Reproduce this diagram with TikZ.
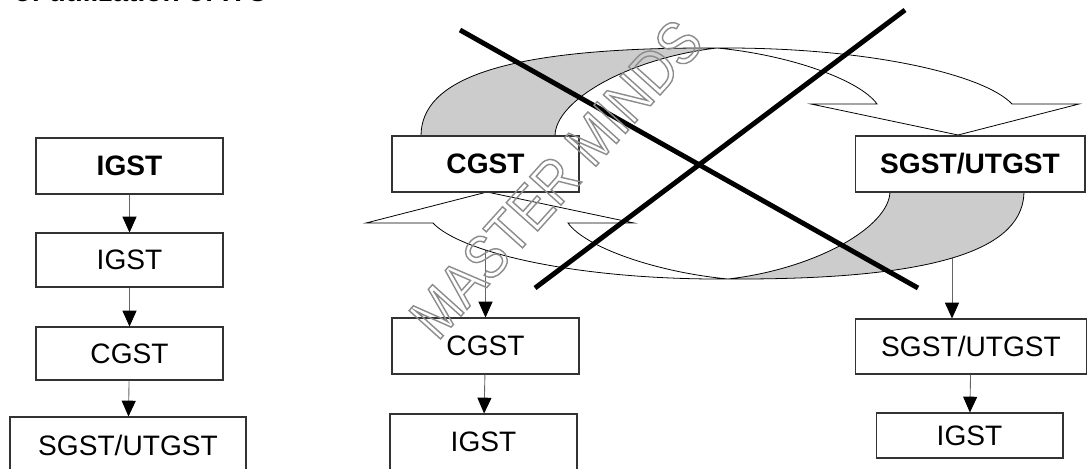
\documentclass[tikz,border=0pt]{standalone}
\usepackage{fontspec}
\setmainfont{Liberation Sans}
\newfontfamily\markfont[FakeStretch=0.85]{Liberation Sans}
\usetikzlibrary{arrows.meta,calc}

\begin{document}
\begin{tikzpicture}[x=0.02cm,y=-0.02cm,
 box/.style={draw=black!80,line width=0.6pt,fill=white,inner sep=0pt,
  minimum width=3.74cm,minimum height=1.12cm,font=\fontsize{16}{19}\selectfont},
 boldbox/.style={box,font=\bfseries\fontsize{16}{19}\selectfont},
 link/.style={draw=black!60,line width=0.5pt,-{Triangle[length=9pt,width=8pt,color=black]}},
 cross/.style={line width=2.8pt},
 ringline/.style={draw=black,line width=0.45pt},
 pics/halfring/.style={code={
  \filldraw[ringline,fill=white] (-5.5,-115.5) .. controls (147.5,-116.5) and (262.5,-88.5) .. (289.5,-59.5)
   -- (356.5,-59.5) -- (235.5,-28.5) -- (88.5,-59.5) -- (154.5,-59.5)
   .. controls (137.5,-83.5) and (67.5,-108.5) .. (-5.5,-115.5) -- cycle;
  \filldraw[ringline,fill=black!20] (-301.5,-23.5) -- (-301.5,-27.5)
   .. controls (-301.5,-83.5) and (-222.5,-116.5) .. (-5.5,-115.5)
   .. controls (-92.5,-105.5) and (-167.5,-63.5) .. (-167.5,-27.5) -- (-167.5,-23.5) -- cycle;
  }}]
\useasboundingbox (0,0) rectangle (1087,468);

\node[anchor=base west,font=\bfseries\fontsize{16}{19}\selectfont] (title) at (8,1) {of utilization of ITC};

% left column
\node[boldbox] (igstA) at (129.5,166) {IGST};
\node[box,minimum height=1.08cm] (igstB) at (129.5,260) {IGST};
\node[box,minimum height=1.06cm] (cgstA) at (129.5,353.5) {CGST};
\node[box,minimum width=4.72cm] (sgstA) at (128,445) {SGST/UTGST};
\draw[link] (igstA) -- (igstB);
\draw[link] (igstB) -- (cgstA);
\draw[link] (cgstA) -- (sgstA);

% middle and right columns
\coordinate (ringc) at (722.5,163.5);
\path (485.5,164) coordinate (cgstBc) (970,164) coordinate (sgstBc);
\node[box] (cgstC) at (485.5,346) {CGST};
\node[box] (igstC) at (483.5,442) {IGST};
\node[box,minimum width=4.64cm,minimum height=1.1cm] (sgstC) at (971,346.5) {SGST/UTGST};
\node[box,minimum height=0.9cm] (igstD) at (969.5,435.5) {IGST};
\draw[link] (cgstBc) -- (cgstC);
\draw[link] (cgstC) -- (igstC);
\draw[link] ($(sgstBc)+(-18,0)$) -- (sgstC.north -| {$(sgstBc)+(-18,0)$});
\draw[link] (sgstC) -- (igstD);

% the two twisted arrows
\pic at (ringc) {halfring};
\pic[rotate=180] at (ringc) {halfring};

\node[boldbox] (cgstB) at (cgstBc) {CGST};
\node[boldbox,minimum width=4.6cm] (sgstB) at (sgstBc) {SGST/UTGST};

% crossed out
\draw[cross] (460,30) -- (918,288);
\draw[cross] (905,10) -- (535,288);

% watermark
\node[rotate=48,text=black!45,font=\markfont\fontsize{35}{40}\selectfont] (mark) at (556,179)
 {\special{pdf:literal direct 1 Tr 0.8 w}MASTER MINDS\special{pdf:literal direct 0 Tr}};
\end{tikzpicture}
\end{document}
